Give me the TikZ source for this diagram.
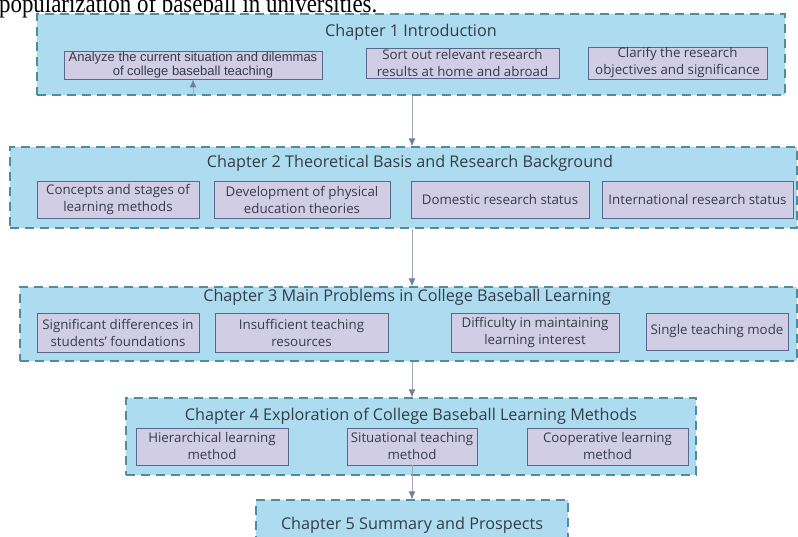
\documentclass[tikz,border=0pt]{standalone}
\usepackage{fontspec}
\setmainfont{Open Sans}
\newfontfamily\arialish{Liberation Sans}
\newfontfamily\timesish{Liberation Serif}
\usetikzlibrary{arrows.meta}

\definecolor{chapfill}{HTML}{ADDCF0}
\definecolor{chapedge}{HTML}{4F8C9C}
\definecolor{itemfill}{HTML}{D1CDE4}
\definecolor{itemedge}{HTML}{56688E}
\definecolor{txt}{HTML}{353C48}
\definecolor{flow}{HTML}{A4AABA}
\definecolor{flowhead}{HTML}{7480A0}

\tikzset{
  chapter/.style={draw=chapedge, fill=chapfill, dash pattern=on 9pt off 6pt,
    line width=1.1pt, inner sep=0pt},
  chaptitle/.style={font=\fontsize{16.2}{19}\selectfont, text=txt, inner sep=0pt},
  item/.style={draw=itemedge, fill=itemfill, line width=0.8pt, inner sep=0pt,
    align=center, text=txt, font=\fontsize{13.3}{17}\selectfont},
  flowarrow/.style={draw=flow, line width=1pt,
    -{Latex[length=8pt,width=7pt,color=flowhead]}},
}

\begin{document}
\begin{tikzpicture}[x=1pt,y=-1pt]
\useasboundingbox (0,0) rectangle (798,536);

% heading line of the surrounding text
\node[anchor=base west, inner sep=0pt, xscale=0.88,
  font=\timesish\fontsize{26}{30}\selectfont]
  (caption) at (-1,12) {popularization of baseball in universities.};

% Chapter 1
\node[chapter, minimum width=748pt, minimum height=81pt] (c1) at (411,54.5) {};
\node[chaptitle] (t1) at (411,32) {Chapter 1 Introduction};
\node[item, minimum width=258pt, minimum height=28pt,
  font=\arialish\fontsize{13}{14.5}\selectfont] (c1a) at (193,65)
  {Analyze the current situation and dilemmas\\of college baseball teaching};
\node[item, minimum width=193pt, minimum height=30pt] (c1b) at (462.5,63)
  {Sort out relevant research\\results at home and abroad};
\node[item, minimum width=179pt, minimum height=32pt] (c1c) at (677.5,63)
  {Clarify the research\\objectives and significance};

% Chapter 2
\node[chapter, minimum width=787pt, minimum height=81pt] (c2) at (403.5,187.5) {};
\node[chaptitle] (t2) at (410,163) {Chapter 2 Theoretical Basis and Research Background};
\node[item, minimum width=162pt, minimum height=37pt] (c2a) at (118,199.5)
  {Concepts and stages of\\learning methods};
\node[item, minimum width=176pt, minimum height=37pt] (c2b) at (302,199.5)
  {Development of physical\\education theories};
\node[item, minimum width=178pt, minimum height=37pt] (c2c) at (500,199.5)
  {Domestic research status};
\node[item, minimum width=191pt, minimum height=37pt] (c2d) at (697.5,199.5)
  {International research status};

% Chapter 3
\node[chapter, minimum width=777pt, minimum height=74pt] (c3) at (408.5,324) {};
\node[chaptitle] (t3) at (407,297) {Chapter 3 Main Problems in College Baseball Learning};
\node[item, minimum width=162pt, minimum height=39pt] (c3a) at (118,332.5)
  {Significant differences in\\students' foundations};
\node[item, minimum width=173pt, minimum height=39pt] (c3b) at (301.5,332.5)
  {Insufficient teaching\\resources};
\node[item, minimum width=168pt, minimum height=39pt] (c3c) at (535,332.5)
  {Difficulty in maintaining\\learning interest};
\node[item, minimum width=142pt, minimum height=37pt] (c3d) at (717,331.5)
  {Single teaching mode};

% Chapter 4
\node[chapter, minimum width=570pt, minimum height=77pt] (c4) at (411,436.5) {};
\node[chaptitle] (t4) at (411,416) {Chapter 4 Exploration of College Baseball Learning Methods};
\node[item, minimum width=152pt, minimum height=37pt] (c4a) at (212,446.5)
  {Hierarchical learning\\method};
\node[item, minimum width=130pt, minimum height=37pt] (c4b) at (412,446.5)
  {Situational teaching\\method};
\node[item, minimum width=161pt, minimum height=37pt] (c4c) at (607.5,446.5)
  {Cooperative learning\\method};

% Chapter 5
\node[chapter, minimum width=312pt, minimum height=60pt] (c5) at (412,530) {};
\node[chaptitle] (t5) at (412,525) {Chapter 5 Summary and Prospects};

% flow between chapters
\coordinate (axis) at (412,0);
\draw[flowarrow] (c1a.south |- c1.south) -- (c1a.south);
\draw[flowarrow] (c1.south -| axis) -- (c2.north -| axis);
\draw[flowarrow] (c2.south -| axis) -- (c3.north -| axis);
\draw[flowarrow] (c3.south -| axis) -- (c4.north -| axis);
\draw[flowarrow] (c4b.south) -- (c5.north -| c4b.south);
\end{tikzpicture}
\end{document}
